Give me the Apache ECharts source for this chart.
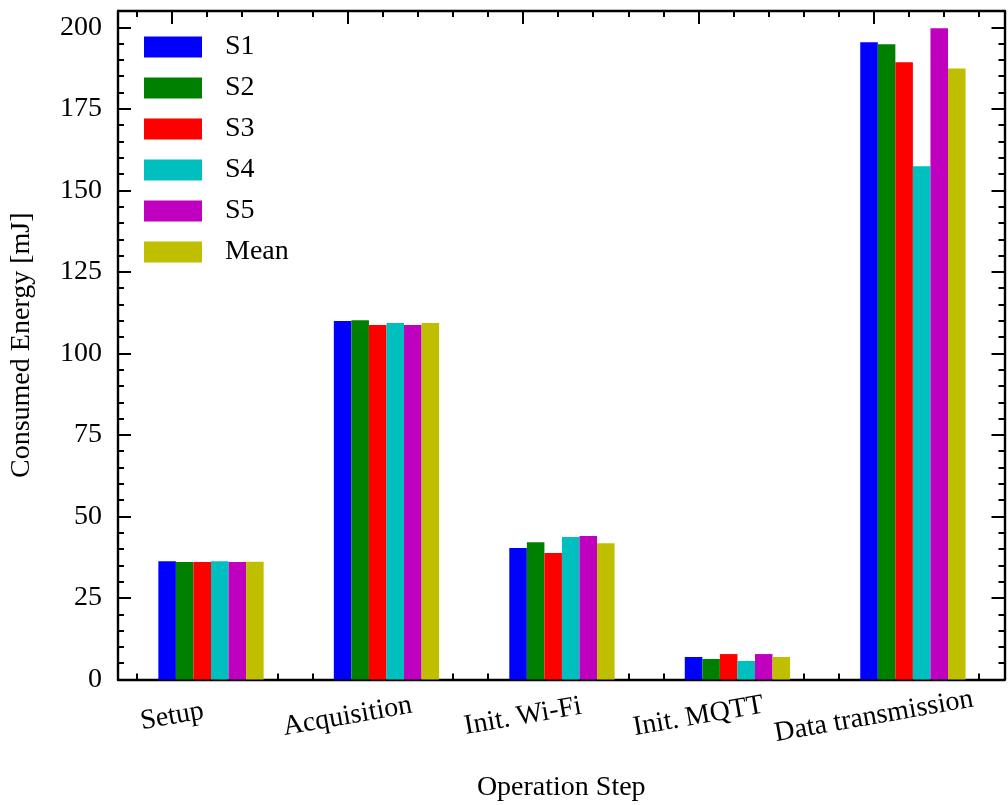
<!DOCTYPE html>
<html lang="en" style="height: 100%">

<head>
    <meta charset="utf-8">
</head>

<body style="height: 100%; margin: 0; background: #ffffff;">
    <div id="container" style="width: 1008px; height: 805px"></div>

    <script type="text/javascript" src="https://cdn.jsdelivr.net/npm/echarts@6.0.0/dist/echarts.min.js"></script>
    <script type="text/javascript">
        // data
        var categories = ['Setup', 'Acquisition', 'Init. Wi-Fi', 'Init. MQTT', 'Data transmission'];
        var seriesNames = ['S1', 'S2', 'S3', 'S4', 'S5', 'Mean'];
        var s1 = [36.3, 109.9, 40.3, 6.9, 195.4];
        var s2 = [36.0, 110.2, 42.1, 6.3, 194.8];
        var s3 = [36.0, 108.7, 38.8, 7.8, 189.3];
        var s4 = [36.3, 109.3, 43.7, 5.7, 157.4];
        var s5 = [36.0, 108.7, 44.0, 7.8, 199.7];
        var mean = [36.1, 109.3, 41.8, 6.9, 187.4];
        var yMin = 0;
        var yMax = 205;
        var yStep = 25;

        var seriesValues = [s1, s2, s3, s4, s5, mean];
        var colors = ['#0000ff', '#008000', '#ff0000', '#00bfbf', '#bf00bf', '#bfbf00'];

        var fontFamily = 'Liberation Serif';
        var fontsz = 28;
        var groupShift = 0.222; // bars sit right of the tick, like the matplotlib plot
        var xMin = -0.308;
        var xMax = 4.744;

        var dom = document.getElementById('container');
        var myChart = echarts.init(dom, null, { renderer: 'canvas' });

        var lineStyle = { color: '#000', width: 2.4 };

        function xAxisBase(pos, showLabel) {
            return {
                type: 'value',
                position: pos,
                min: xMin,
                max: xMax,
                splitNumber: 5,
                axisLine: { show: true, onZero: false, lineStyle: lineStyle },
                axisTick: { show: true, inside: true, length: 13, lineStyle: { color: '#000', width: 2 } },
                minorTick: { show: true, splitNumber: 5, length: 6, lineStyle: { color: '#000', width: 2 } },
                splitLine: { show: false },
                minorSplitLine: { show: false },
                axisLabel: {
                    show: showLabel,
                    showMinLabel: false,
                    showMaxLabel: false,
                    rotate: 10,
                    align: 'center',
                    verticalAlign: 'middle',
                    margin: 37,
                    color: '#000',
                    fontFamily: fontFamily,
                    fontSize: fontsz,
                    formatter: function (v) {
                        var i = Math.round(v);
                        return (Math.abs(v - i) < 1e-6 && categories[i]) ? categories[i] : '';
                    }
                }
            };
        }

        function yAxisBase(pos, showLabel) {
            return {
                type: 'value',
                position: pos,
                min: yMin,
                max: yMax,
                interval: yStep,
                axisLine: { show: true, onZero: false, lineStyle: lineStyle },
                axisTick: { show: true, inside: true, length: 13, lineStyle: { color: '#000', width: 2 } },
                minorTick: { show: true, splitNumber: 5, length: 6, lineStyle: { color: '#000', width: 2 } },
                splitLine: { show: false },
                minorSplitLine: { show: false },
                axisLabel: {
                    show: showLabel,
                    showMaxLabel: false,
                    margin: 16,
                    color: '#000',
                    fontFamily: fontFamily,
                    fontSize: fontsz
                }
            };
        }

        var xBottom = xAxisBase('bottom', true);
        xBottom.name = 'Operation Step';
        xBottom.nameLocation = 'middle';
        xBottom.nameGap = 108;
        xBottom.nameTextStyle = { color: '#000', fontFamily: fontFamily, fontSize: fontsz, verticalAlign: 'middle' };

        var yLeft = yAxisBase('left', true);
        yLeft.name = 'Consumed Energy [mJ]';
        yLeft.nameLocation = 'middle';
        yLeft.nameGap = 96;
        yLeft.nameTextStyle = { color: '#000', fontFamily: fontFamily, fontSize: fontsz, verticalAlign: 'middle' };

        var series = seriesNames.map(function (name, k) {
            return {
                name: name,
                type: 'bar',
                xAxisIndex: 0,
                yAxisIndex: 0,
                barWidth: 17.55,
                barGap: '0%',
                itemStyle: { color: colors[k] },
                data: seriesValues[k].map(function (v, i) { return [i + groupShift, v]; })
            };
        });

        var option = {
            animation: false,
            backgroundColor: '#ffffff',
            textStyle: { fontFamily: fontFamily },
            grid: {
                left: 118,
                right: 3.5,
                top: 11,
                bottom: 125.5,
                containLabel: false,
                outerBoundsMode: 'none'
            },
            legend: {
                orient: 'vertical',
                left: 144,
                top: 33,
                padding: 0,
                itemWidth: 58,
                itemHeight: 21,
                itemGap: 13,
                icon: 'rect',
                data: seriesNames,
                textStyle: {
                    color: '#000',
                    fontFamily: fontFamily,
                    fontSize: fontsz,
                    padding: [0, 0, 0, 18]
                }
            },
            xAxis: [xBottom, xAxisBase('top', false)],
            yAxis: [yLeft, yAxisBase('right', false)],
            series: series
        };

        myChart.setOption(option);
        window.addEventListener('resize', myChart.resize);
    </script>
</body>

</html>
